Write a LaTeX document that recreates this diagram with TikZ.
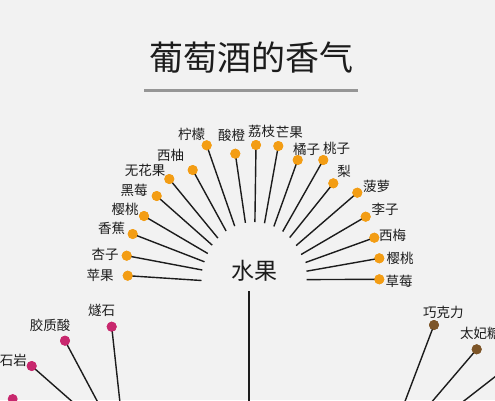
\documentclass[tikz,border=0pt]{standalone}
\usepackage{fontspec}
\newfontfamily\cjk{Noto Sans CJK SC}
\definecolor{bg}{RGB}{242,242,242}
\definecolor{fruitc}{RGB}{243,157,20}
\definecolor{minc}{RGB}{200,40,110}
\definecolor{sweetc}{RGB}{125,85,40}
\definecolor{inkc}{RGB}{28,28,28}
\definecolor{rulec}{RGB}{150,150,150}
\begin{document}
\begin{tikzpicture}[x=1pt,y=-1pt,
  dotbase/.style={circle,inner sep=0pt,minimum size=10pt},
  dotf/.style={dotbase,fill=fruitc},
  dotm/.style={dotbase,fill=minc},
  dots/.style={dotbase,fill=sweetc},
  lbl/.style={font=\cjk\fontsize{13.5}{15}\selectfont,text=inkc,inner sep=0pt},
  spoke/.style={draw=inkc,line width=1.4pt}]
\fill[bg] (0,0) rectangle (495,400);
\useasboundingbox (0,0) rectangle (495,400);
\clip (0,0) rectangle (495,400);

% title
\node[font=\cjk\fontsize{34}{36}\selectfont,text=inkc,inner sep=0pt] (title) at (251,58) {葡萄酒的香气};
\coordinate (ul1) at (144,90);
\coordinate (ul2) at (358,90);
\draw[rulec,line width=3pt] (ul1) -- (ul2);

% center
\node[font=\cjk\fontsize{23}{25}\selectfont,text=inkc,inner sep=0pt] (fruit) at (254,271) {水果};
\coordinate (vt) at (249,291);
\coordinate (vb) at (249,410);
\draw[spoke] (vt) -- (vb);

% fruit spokes: id / dot x / dot y / label x / label y / end x / end y / text
\foreach \n/\x/\y/\lx/\ly/\ex/\ey/\t in {
  a/127.7/275.7/100/275.7/201.5/280.5/苹果,
  b/126.7/255.7/105/254/202.3/270/杏子,
  c/132.7/234/111.7/228.3/204.5/261.8/香蕉,
  d/144/216/125/209/207.8/253.5/樱桃,
  e/156.7/196/134/190/212.2/245.1/黑莓,
  f/169.3/179/145/170/217.9/238.1/无花果,
  g/192.7/170/170.7/155/226.1/231.0/西柚,
  h/206.7/145.3/191.7/134/234.7/226.1/柠檬,
  i/235.3/153.7/231.7/135/245.4/222.8/酸橙,
  j/256/145/261.7/131.7/254.9/222.0/荔枝,
  k/278.3/146/289.3/132.7/264.5/223.2/芒果,
  l/297.7/160/306.7/149.3/273.9/226.4/橘子,
  m/323.3/160/336.7/148.3/282.7/231.5/桃子,
  n/333.3/183.3/344/171.7/289.7/237.6/梨,
  o/357.3/192.7/376.7/186/296.1/245.6/菠萝,
  p/365.7/216.7/385/209.3/301.1/254.5/李子,
  q/374.3/237.7/392.7/235/305.5/262.5/西梅,
  r/379.3/258.3/400/258.3/306.5/271.2/樱桃,
  s/379.3/279.3/399/281/306.5/279.6/草莓}{
  \coordinate (fe\n) at (\ex,\ey);
  \node[dotf] (f\n) at (\x,\y) {};
  \draw[spoke] (f\n.center) -- (fe\n);
  \node[dotf] at (f\n) {};
  \node[lbl] (fl\n) at (\lx,\ly) {\t};
}

% mineral spokes (bottom left)
\foreach \n/\x/\y/\lx/\ly/\ex/\ey/\t in {
  a/111.7/326.7/101.7/310.7/121/412/燧石,
  b/65/340.7/50/325/103/412/胶质酸,
  c/31.7/366/13.3/360/84/412/石岩}{
  \coordinate (me\n) at (\ex,\ey);
  \node[dotm] (m\n) at (\x,\y) {};
  \draw[spoke] (m\n.center) -- (me\n);
  \node[dotm] at (m\n) {};
  \node[lbl] (ml\n) at (\lx,\ly) {\t};
}
\node[dotm] (md) at (12.7,399) {};

% sweet spokes (bottom right)
\node[dots] (sa) at (434,325) {};
\coordinate (sea) at (404,404);
\draw[spoke] (sa.center) -- (sea);
\node[dots] at (sa) {};
\node[lbl] (sla) at (443.3,312.7) {巧克力};
\node[dots] (sb) at (476.7,349.3) {};
\coordinate (seb) at (430,404);
\draw[spoke] (sb.center) -- (seb);
\node[dots] at (sb) {};
\node[lbl,anchor=west] (slb) at (460,333.3) {太妃糖};
\node[dots] (sc) at (515,361.2) {};
\coordinate (sec) at (460,404);
\draw[spoke] (sc.center) -- (sec);
\end{tikzpicture}
\end{document}
